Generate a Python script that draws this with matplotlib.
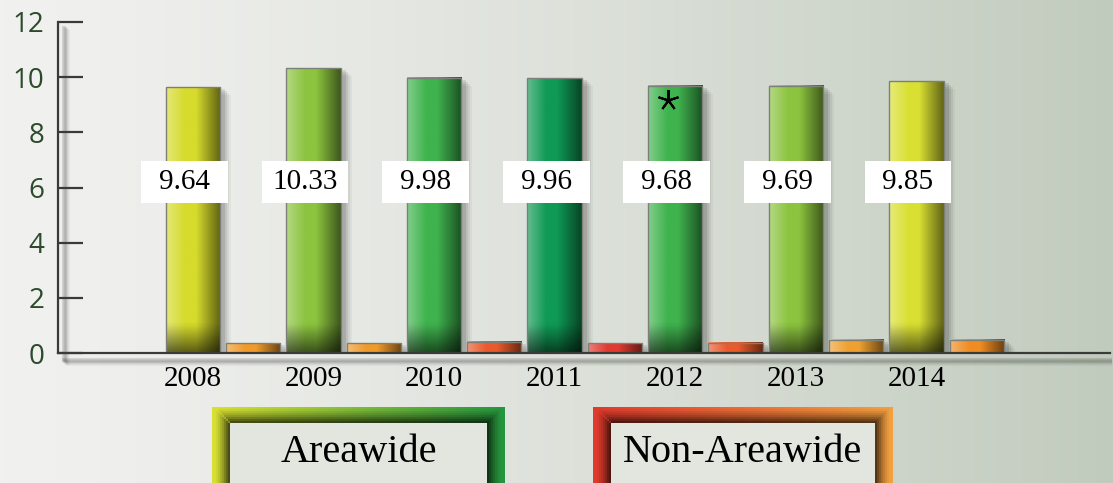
import numpy as np
from matplotlib import pyplot as plt
from matplotlib.patches import Rectangle
from matplotlib.colors import to_rgb

# Data
years = ['2008', '2009', '2010', '2011', '2012', '2013', '2014']
areawide = [9.64, 10.33, 9.98, 9.96, 9.68, 9.69, 9.85]
non_areawide = [0.35, 0.35, 0.40, 0.36, 0.38, 0.48, 0.48]
area_colors = ['#d6db2c', '#8cc43f', '#3fb34e', '#0f9a55', '#3fb34e', '#8cc43f', '#d9e033']
non_colors = ['#f09a2a', '#f09a2a', '#ea5a2c', '#e23a30', '#ea5a2c', '#f0a030', '#f08c22']
star_year = '2012'
star_value = 9.17

W, H = 1113, 483
fig = plt.figure(figsize=(W / 100, H / 100), dpi=100)

# Background gradient (light grey on the left -> greenish grey on the right)
bg = fig.add_axes([0, 0, 1, 1])
t = np.linspace(0, 1, 256)
c0, c1 = np.array(to_rgb('#f1f1ef')), np.array(to_rgb('#c1cbbd'))
grad = c0[None, :] * (1 - t[:, None] ** 1.3) + c1[None, :] * t[:, None] ** 1.3
bg.imshow(grad[None, :, :], aspect='auto', extent=(0, W, H, 0))
bg.set_xlim(0, W)
bg.set_ylim(H, 0)
bg.axis('off')

# Main axes
ax = fig.add_axes([58 / W, 1 - 353 / H, 1052 / W, 331 / H])
ax.set_facecolor('none')
x = np.arange(len(years))
bw = 0.45
xa = x - 0.25
xn = x + 0.25
px = 1 / 120.6  # one pixel in x data units
py = 12 / 331   # one pixel in y data units


def shade(ax, x0, w, h, base, dark_bottom=True):
    # horizontal light/dark shading plus a dark band at the bottom
    nx, ny = 64, 64
    u = np.linspace(0, 1, nx)
    v = np.linspace(0, 1, ny)[:, None]  # 0 bottom, 1 top
    rgb = np.array(to_rgb(base))
    light = np.clip(1 - u / 0.35, 0, 1) * 0.35
    dark = np.clip((u - 0.55) / 0.45, 0, 1) * 0.55
    img = np.ones((ny, nx, 3)) * rgb
    img = img * (1 - dark)[None, :, None] + light[None, :, None] * (1 - img)
    if dark_bottom:
        b = np.clip(1 - v / min(1, 28 * py / h), 0, 1) * 0.55
        img = img * (1 - b[:, :, None])
    ax.imshow(img[::-1], aspect='auto', extent=(x0, x0 + w, 0, h),
              zorder=3, interpolation='bilinear')
    ax.add_patch(Rectangle((x0, 0), w, h, fill=False, ec='#7d8078',
                           lw=1.0, zorder=4))


for i in range(len(years)):
    # drop shadows
    for k, a in zip(range(1, 5), [0.10, 0.08, 0.06, 0.04]):
        ax.add_patch(Rectangle((xa[i] - bw / 2 + (3 + 2 * k) * px, -k * 2 * py), bw,
                               areawide[i], color='black', alpha=a, lw=0, zorder=2))
        ax.add_patch(Rectangle((xn[i] - bw / 2 + (3 + 2 * k) * px, -k * 2 * py), bw,
                               non_areawide[i], color='black', alpha=a, lw=0, zorder=2))
    shade(ax, xa[i] - bw / 2, bw, areawide[i], area_colors[i])
    shade(ax, xn[i] - bw / 2, bw, non_areawide[i], non_colors[i], dark_bottom=False)
    # value label boxes
    ax.add_patch(Rectangle((xa[i] - 0.07 - 0.36, 6.2 - 0.75), 0.72, 1.5,
                           color='white', lw=0, zorder=5))
    ax.text(xa[i] - 0.07, 6.2, f'{areawide[i]:.2f}', ha='center', va='center',
            fontsize=21, family='Liberation Serif', color='black', zorder=6)

ax.plot(xa[years.index(star_year)] - 0.06, star_value, marker=(5, 2, 0),
        color='black', markersize=15, mew=1.5, zorder=7)

ax.set_xlim(-1.368, 7.355)
ax.set_ylim(0, 12)
for s in ['top', 'right']:
    ax.spines[s].set_visible(False)
for s in ['left', 'bottom']:
    ax.spines[s].set_color('#3a3a38')
    ax.spines[s].set_linewidth(1.6)
    ax.spines[s].set_zorder(5)

# soft shadow of the axis lines
for k, a in zip(range(1, 6), [0.10, 0.08, 0.06, 0.04, 0.03]):
    ax.plot([-1.368 + (5 + k) * px] * 2, [-(5 + k) * py, 12 - (5 + k) * py],
            color='black', alpha=a, lw=3, clip_on=False, zorder=1)
    ax.plot([-1.368 + (5 + k) * px, 7.355], [-(6 + k) * py] * 2,
            color='black', alpha=a, lw=3, clip_on=False, zorder=1)

ax.set_yticks(np.arange(0, 13, 2))
ax.tick_params(axis='y', direction='in', length=18, width=1.6, color='#3a3a38',
               pad=10, labelsize=20, labelcolor='#2c4a2c')
for lab in ax.get_yticklabels():
    lab.set_family('Open Sans')
ax.set_xticks(xa, years)
ax.tick_params(axis='x', length=0, pad=9, labelsize=21)
for lab in ax.get_xticklabels():
    lab.set_family('Liberation Serif')

# Legend boxes drawn in figure pixels
leg = fig.add_axes([0, 0, 1, 1])
leg.set_xlim(0, W)
leg.set_ylim(H, 0)
leg.axis('off')


def legend_box(x0, x1, y0, y1, ca, cb, label, fs):
    u = np.linspace(0, 1, 200)
    a, b = np.array(to_rgb(ca)), np.array(to_rgb(cb))
    img = a[None, :] * (1 - u[:, None]) + b[None, :] * u[:, None]
    leg.imshow(img[None, :, :], aspect='auto', extent=(x0, x1, y1, y0),
               interpolation='bilinear', zorder=1)
    # dark inner edge
    for k, al in zip(range(7), [0.45, 0.35, 0.26, 0.18, 0.12, 0.07, 0.04]):
        leg.add_patch(Rectangle((x0 + 18 - k * 2, y0 + 16 - k * 2), x1 - x0 - 36 + k * 4,
                                y1 - y0 - 30 + k * 4, fill=False, ec='black',
                                alpha=al, lw=3, zorder=2))
    leg.add_patch(Rectangle((x0 + 18, y0 + 16), x1 - x0 - 36, y1 - y0 - 30,
                            color='#e3e6df', lw=0, zorder=3))
    leg.text((x0 + x1) / 2, y0 + 16 + (y1 - y0 - 30) / 2 - 2, label, ha='center',
             va='center', fontsize=fs, family='Liberation Serif', zorder=4)


legend_box(212, 505, 407, 500, '#d9e033', '#24963f', 'Areawide', 29)
legend_box(593, 893, 407, 500, '#e03a2e', '#f2a040', 'Non-Areawide', 29)

fig.savefig('out.png', dpi=100)
